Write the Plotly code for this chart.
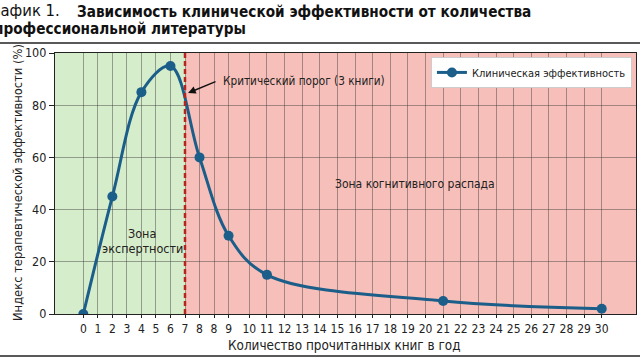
import numpy as np
import plotly.graph_objects as go

# ---- data ----
books = [0, 2, 4, 6, 8, 9, 11, 21, 30]
efficiency = [0, 45, 85, 95, 60, 30, 15, 5, 2]
tick_books = [0, 1, 2, 3, 4, 5, 6, 7, 8, 8.5, 9] + list(range(10, 31))
tick_labels = ["0", "1", "2", "3", "4", "5", "6", "7", "8", "8", "9"] + [str(v) for v in range(10, 31)]
threshold = 7
series_name = "Клиническая эффективность"

# the original axis is non-uniform: piecewise mapping of book counts to axis slots
book_knots = [0, 8, 9, 10, 30]
slot_knots = [0, 8, 10, 11.43, 35.69]


def to_axis(v):
    return np.interp(v, book_knots, slot_knots)


FONT = "DejaVu Sans Condensed, Liberation Sans Narrow, Roboto, sans-serif"
LINE = "#1b5e8a"

# plot area in pixels: left 55, right 636, top 53, bottom 314
L, R, T, B = 55, 636, 53, 314
W, H = R - L, B - T


def px(xp):
    return (xp - L) / W


def py(yp):
    return (B - yp) / H


fig = go.Figure()
fig.add_trace(go.Scatter(
    x=to_axis(books), y=efficiency, name=series_name,
    mode="lines+markers",
    line=dict(color=LINE, width=3, shape="spline", smoothing=1.0),
    marker=dict(color=LINE, size=10),
))

x_lo, x_hi = -1.95, 38.05
fig.add_shape(type="rect", xref="x", yref="paper", x0=x_lo, x1=to_axis(threshold), y0=0, y1=1,
              fillcolor="#d6edcb", line_width=0, layer="below")
fig.add_shape(type="rect", xref="x", yref="paper", x0=to_axis(threshold), x1=x_hi, y0=0, y1=1,
              fillcolor="#f7bfb9", line_width=0, layer="below")
fig.add_shape(type="line", xref="x", yref="paper", x0=to_axis(threshold), x1=to_axis(threshold), y0=0, y1=1,
              line=dict(color="#b3261e", width=2.5, dash="5px,3px"))
# frame lines of the figure block
for yy in (43, 356):
    fig.add_shape(type="line", xref="paper", yref="paper", x0=px(-2), x1=px(642), y0=py(yy), y1=py(yy),
                  line=dict(color="#222222", width=1.5))

ann = []
ann.append(dict(text="График 1.", x=px(62), y=py(11), xref="paper", yref="paper",
                xanchor="right", yanchor="middle", showarrow=False,
                font=dict(size=16.5, color="#111", family=FONT)))
ann.append(dict(text="<b>Зависимость клинической эффективности от количества</b>",
                x=px(75), y=py(12), xref="paper", yref="paper", xanchor="left", yanchor="middle",
                showarrow=False, font=dict(size=15.2, color="#111", family=FONT)))
ann.append(dict(text="<b>профессиональной литературы</b>",
                x=px(-8), y=py(29), xref="paper", yref="paper", xanchor="left", yanchor="middle",
                showarrow=False, font=dict(size=15.2, color="#111", family=FONT)))
ann.append(dict(text="Индекс терапевтической эффективности (%)", textangle=-90,
                x=px(17), y=py(183), xref="paper", yref="paper", xanchor="center", yanchor="middle",
                showarrow=False, font=dict(size=12.8, color="#222", family=FONT)))
ann.append(dict(text="Количество прочитанных книг в год",
                x=px(344), y=py(345), xref="paper", yref="paper", xanchor="center", yanchor="middle",
                showarrow=False, font=dict(size=13.4, color="#222", family=FONT)))
ann.append(dict(text="Зона", x=px(142), y=py(233), xref="paper", yref="paper", showarrow=False,
                xanchor="center", yanchor="middle",
                font=dict(size=12.5, color="#222", family=FONT)))
ann.append(dict(text="экспертности", x=px(142), y=py(248), xref="paper", yref="paper", showarrow=False,
                xanchor="center", yanchor="middle",
                font=dict(size=12.5, color="#222", family=FONT)))
ann.append(dict(text="Зона когнитивного распада", x=px(415), y=py(184), xref="paper", yref="paper",
                xanchor="center", yanchor="middle",
                showarrow=False, font=dict(size=12, color="#222", family=FONT)))
ann.append(dict(text="Критический порог (3 книги)", x=px(221), y=py(81), xref="paper", yref="paper",
                xanchor="left", yanchor="middle", showarrow=False,
                font=dict(size=11.7, color="#222", family=FONT)))
ann.append(dict(text="", x=px(188), y=py(93), xref="paper", yref="paper",
                ax=29, ay=-12, showarrow=True, arrowhead=2, arrowsize=1.1, arrowwidth=1.4,
                arrowcolor="#111"))

fig.update_layout(
    width=640, height=360,
    margin=dict(l=L, r=640 - R, t=T, b=360 - B),
    paper_bgcolor="white", plot_bgcolor="white",
    font=dict(family=FONT, color="#222"),
    annotations=ann,
    showlegend=True,
    legend=dict(x=0.993, y=0.985, xanchor="right", yanchor="top", bgcolor="white",
                bordercolor="#cccccc", borderwidth=1, font=dict(size=11, family=FONT, color="#222"),
                itemwidth=30, tracegroupgap=0),
    xaxis=dict(range=[x_lo, x_hi], tickmode="array", tickvals=to_axis(tick_books), ticktext=tick_labels,
               showgrid=True, gridcolor="rgba(60,60,60,0.45)", gridwidth=1, zeroline=False,
               showline=True, linecolor="#222", linewidth=1.2, mirror=True,
               ticks="outside", ticklen=3, tickcolor="#222", tickfont=dict(size=12, family=FONT)),
    yaxis=dict(range=[0, 100], tickvals=[0, 20, 40, 60, 80, 100],
               showgrid=True, gridcolor="rgba(60,60,60,0.45)", gridwidth=1, zeroline=False,
               showline=True, linecolor="#222", linewidth=1.2, mirror=True,
               ticks="outside", ticklen=5, tickcolor="#222", tickfont=dict(size=12.5, family=FONT)),
)

fig.write_html("out.html", post_script="document.body.style.margin='0';",
               config={"displayModeBar": False})
